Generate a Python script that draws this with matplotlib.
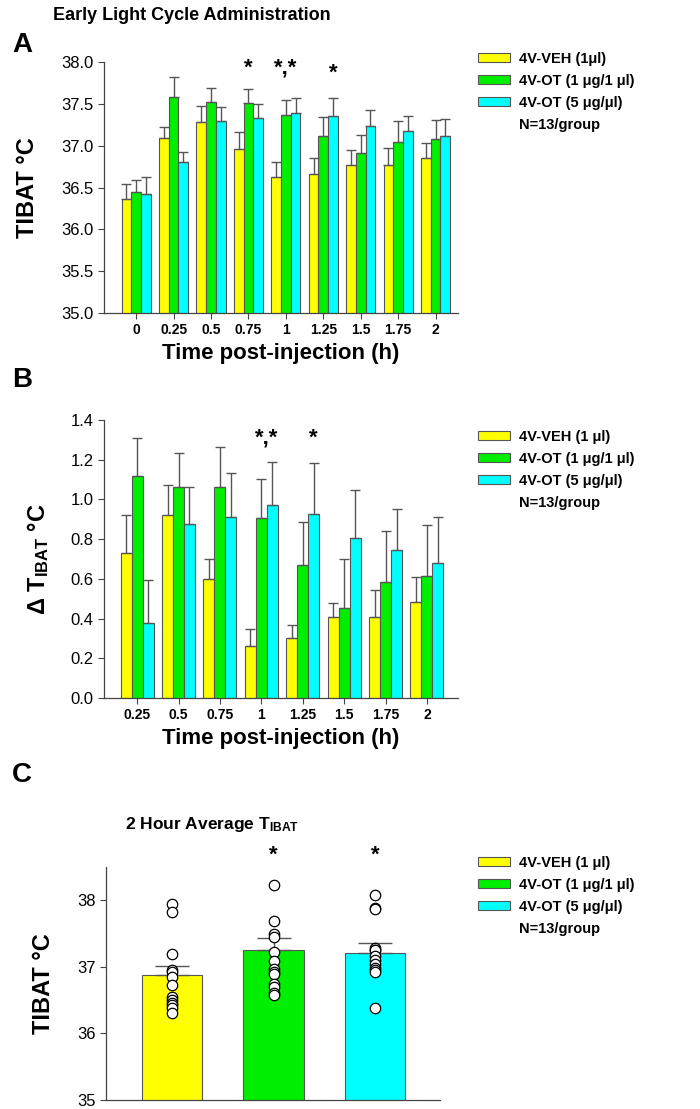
import numpy as np
import matplotlib
matplotlib.use("Agg")
import matplotlib.pyplot as plt
from matplotlib.patches import Patch

plt.rcParams['font.family'] = ['Liberation Sans', 'DejaVu Sans']
plt.rcParams['mathtext.fontset'] = 'custom'
plt.rcParams['mathtext.rm'] = 'Liberation Sans:bold'
plt.rcParams['mathtext.it'] = 'Liberation Sans:bold'
plt.rcParams['mathtext.bf'] = 'Liberation Sans:bold'

# ---------------- data ----------------
groups = ["4V-VEH (1μl)", "4V-OT (1 μg/1 μl)", "4V-OT (5 μg/μl)"]
groups_bc = ["4V-VEH (1 μl)", "4V-OT (1 μg/1 μl)", "4V-OT (5 μg/μl)"]
colors = ["#FFFF00", "#00EE00", "#00FFFF"]

times_a = ["0", "0.25", "0.5", "0.75", "1", "1.25", "1.5", "1.75", "2"]
veh_a = [36.36, 37.09, 37.28, 36.96, 36.62, 36.66, 36.77, 36.77, 36.85]
veh_a_sem = [0.18, 0.13, 0.19, 0.20, 0.18, 0.19, 0.18, 0.20, 0.18]
ot1_a = [36.45, 37.58, 37.52, 37.51, 37.37, 37.12, 36.91, 37.04, 37.08]
ot1_a_sem = [0.14, 0.24, 0.17, 0.17, 0.17, 0.22, 0.22, 0.25, 0.23]
ot5_a = [36.42, 36.81, 37.30, 37.33, 37.39, 37.35, 37.23, 37.17, 37.11]
ot5_a_sem = [0.20, 0.12, 0.16, 0.17, 0.18, 0.22, 0.20, 0.19, 0.21]

times_b = ["0.25", "0.5", "0.75", "1", "1.25", "1.5", "1.75", "2"]
veh_b = [0.73, 0.92, 0.60, 0.26, 0.30, 0.41, 0.41, 0.485]
veh_b_sem = [0.19, 0.155, 0.10, 0.085, 0.07, 0.07, 0.135, 0.125]
ot1_b = [1.12, 1.063, 1.061, 0.908, 0.668, 0.455, 0.583, 0.614]
ot1_b_sem = [0.19, 0.17, 0.205, 0.195, 0.22, 0.245, 0.26, 0.255]
ot5_b = [0.38, 0.876, 0.912, 0.973, 0.925, 0.807, 0.745, 0.68]
ot5_b_sem = [0.215, 0.188, 0.222, 0.215, 0.256, 0.242, 0.208, 0.23]

mean_c = [36.88, 37.26, 37.205]
sem_c = [0.14, 0.175, 0.15]
veh_pts = [37.95, 37.82, 37.19, 36.96, 36.93, 36.85, 36.73, 36.55, 36.50, 36.45, 36.43, 36.38, 36.31]
ot1_pts = [38.23, 37.69, 37.50, 37.45, 37.23, 37.09, 36.97, 36.92, 36.89, 36.74, 36.70, 36.61, 36.58]
ot5_pts = [38.08, 37.89, 37.87, 37.29, 37.25, 37.25, 37.16, 37.11, 37.05, 36.99, 36.95, 36.93, 36.38]

# ---------------- layout helpers ----------------
W, H = 700, 1109
fig = plt.figure(figsize=(W / 100, H / 100), dpi=100)


def rect(left, top, right, bottom):
    return [left / W, 1 - bottom / H, (right - left) / W, (bottom - top) / H]


EDGE = "#555555"


def style_axes(ax):
    for s in ["top", "right"]:
        ax.spines[s].set_visible(False)
    for s in ["left", "bottom"]:
        ax.spines[s].set_color("#444444")
        ax.spines[s].set_linewidth(0.9)
    ax.tick_params(direction="out", length=4, width=0.8, color="#444444")
    ax.tick_params(axis="y", labelsize=12)
    ax.tick_params(axis="x", labelsize=10)
    for lab in ax.get_xticklabels():
        lab.set_fontweight("bold")


def grouped(ax, series, sems, width):
    n = len(series[0])
    x = np.arange(n)
    for i, (vals, err, c) in enumerate(zip(series, sems, colors)):
        xi = x + (i - 1) * width
        ax.bar(xi, vals, width=width, color=c, edgecolor=EDGE, linewidth=0.8, zorder=2)
        ax.errorbar(xi, vals, yerr=[np.zeros(n), err], fmt="none", ecolor="#555555",
                    elinewidth=1.0, capsize=3.5, capthick=1.0, zorder=3)


def legend(labels, x, y):
    handles = [Patch(facecolor=c, edgecolor=EDGE, linewidth=0.8) for c in colors]
    handles.append(Patch(facecolor="none", edgecolor="none"))
    leg = fig.legend(handles, labels + ["N=13/group"], loc="upper left",
                     bbox_to_anchor=(x / W, 1 - y / H), frameon=False,
                     prop={"weight": "bold", "size": 10.5}, handlelength=2.2,
                     handleheight=0.55, handletextpad=0.6, labelspacing=0.55,
                     borderaxespad=0)
    return leg


# ---------------- Panel A ----------------
axA = fig.add_axes(rect(104, 62, 458, 313))
grouped(axA, [veh_a, ot1_a, ot5_a], [veh_a_sem, ot1_a_sem, ot5_a_sem], 0.26)
axA.set_ylim(35.0, 38.0)
axA.set_yticks(np.arange(35.0, 38.01, 0.5))
axA.set_yticklabels([f"{v:.1f}" for v in np.arange(35.0, 38.01, 0.5)])
axA.set_xlim(-0.86, 8.6)
axA.set_xticks(np.arange(len(times_a)))
axA.set_xticklabels(times_a)
style_axes(axA)
axA.set_xlabel("Time post-injection (h)", fontsize=16, fontweight="bold", labelpad=4)
axA.set_ylabel("TIBAT °C", fontsize=17, fontweight="bold", labelpad=16)
axA.text(3.0, 37.93, "*", ha="center", va="center", fontsize=16, fontweight="bold")
axA.text(4.0, 37.93, "*,*", ha="center", va="center", fontsize=16, fontweight="bold")
axA.text(5.26, 37.86, "*", ha="center", va="center", fontsize=16, fontweight="bold")
legend(groups, 472, 46)

# ---------------- Panel B ----------------
axB = fig.add_axes(rect(104, 420, 458, 698))
grouped(axB, [veh_b, ot1_b, ot5_b], [veh_b_sem, ot1_b_sem, ot5_b_sem], 0.265)
axB.set_ylim(0, 1.4)
axB.set_yticks(np.arange(0, 1.41, 0.2))
axB.set_yticklabels([f"{v:.1f}" for v in np.arange(0, 1.41, 0.2)])
axB.set_xlim(-0.8, 7.75)
axB.set_xticks(np.arange(len(times_b)))
axB.set_xticklabels(times_b)
style_axes(axB)
axB.set_xlabel("Time post-injection (h)", fontsize=16, fontweight="bold", labelpad=4)
axB.set_ylabel(r"Δ T$_{\mathrm{IBAT}}$ °C", fontsize=17, fontweight="bold", labelpad=14)
axB.text(3.13, 1.31, "*,*", ha="center", va="center", fontsize=16, fontweight="bold")
axB.text(4.265, 1.31, "*", ha="center", va="center", fontsize=16, fontweight="bold")
legend(groups_bc, 472, 424)

# ---------------- Panel C ----------------
axC = fig.add_axes(rect(106, 867, 440, 1100))
xc = np.arange(3)
axC.bar(xc, mean_c, width=0.6, color=colors, edgecolor=EDGE, linewidth=0.8, zorder=2)
axC.errorbar(xc, mean_c, yerr=[np.zeros(3), sem_c], fmt="none", ecolor="#555555",
             elinewidth=1.0, capsize=12, capthick=1.0, zorder=3)
for i, pts in enumerate([veh_pts, ot1_pts, ot5_pts]):
    axC.plot(np.full(len(pts), i), pts, "o", ms=7.5, mfc="white", mec="black",
             mew=0.9, zorder=4, clip_on=False)
axC.set_ylim(35, 38.5)
axC.set_yticks([35, 36, 37, 38])
axC.set_xlim(-0.65, 2.64)
axC.set_xticks([])
style_axes(axC)
axC.set_ylabel("TIBAT °C", fontsize=17, fontweight="bold", labelpad=16)
axC.text(1, 38.68, "*", ha="center", va="center", fontsize=16, fontweight="bold", clip_on=False)
axC.text(2, 38.68, "*", ha="center", va="center", fontsize=16, fontweight="bold", clip_on=False)
legend(groups_bc, 472, 850)

# ---------------- figure texts ----------------
fig.text(192 / W, 1 - 15 / H, "Early Light Cycle Administration", ha="center", va="center",
         fontsize=13, fontweight="bold")
fig.text(12 / W, 1 - 45 / H, "A", ha="left", va="center", fontsize=20, fontweight="bold")
fig.text(12 / W, 1 - 380 / H, "B", ha="left", va="center", fontsize=20, fontweight="bold")
fig.text(12 / W, 1 - 775 / H, "C", ha="left", va="center", fontsize=20, fontweight="bold")
fig.text(125 / W, 1 - 825 / H, r"2 Hour Average T$_{\mathrm{IBAT}}$", ha="left", va="center",
         fontsize=12.5, fontweight="bold")

fig.savefig("out.png", dpi=100)
